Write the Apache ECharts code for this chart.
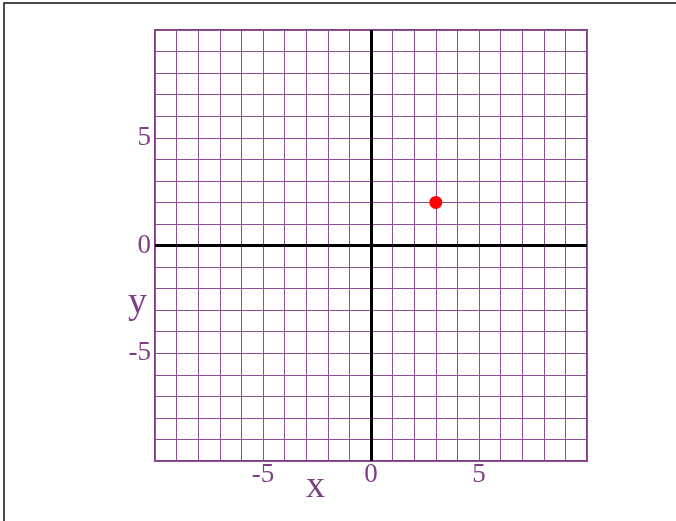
<!DOCTYPE html>
<html>
<head>
<meta charset="utf-8">
<script src="https://cdn.jsdelivr.net/npm/echarts@6/dist/echarts.min.js"></script>
<style>
  html, body { margin: 0; padding: 0; background: #fff; }
  #chart { width: 676px; height: 521px; }
</style>
</head>
<body>
<div id="chart"></div>
<script>
// data
const xRange = [-10, 10];
const yRange = [-10, 10];
const tickLabels = [-5, 0, 5];
const points = [[3, 2]];

const purple = '#7e3f86';
const gridPurple = '#8e4f95';
const serif = 'Liberation Serif';

var dom = document.getElementById('chart');
var myChart = echarts.init(dom, null, { renderer: 'canvas' });

function showTick(v) {
  return tickLabels.indexOf(v) >= 0 ? String(v) : '';
}

var option = {
  animation: false,
  grid: {
    left: 155, top: 30, width: 432, height: 431,
    show: true,
    borderColor: purple,
    borderWidth: 2,
    backgroundColor: 'transparent'
  },
  xAxis: {
    type: 'value',
    min: xRange[0], max: xRange[1], interval: 1,
    axisLine: { show: false },
    axisTick: { show: false },
    splitLine: { lineStyle: { color: gridPurple, width: 1 } },
    axisLabel: {
      formatter: showTick,
      color: purple,
      fontFamily: serif,
      fontSize: 27,
      margin: 0
    }
  },
  yAxis: {
    type: 'value',
    min: yRange[0], max: yRange[1], interval: 1,
    axisLine: { show: false },
    axisTick: { show: false },
    splitLine: { lineStyle: { color: gridPurple, width: 1 } },
    axisLabel: {
      formatter: showTick,
      color: purple,
      fontFamily: serif,
      fontSize: 27,
      margin: 4
    }
  },
  graphic: [
    {
      type: 'rect', silent: true, z: -1,
      shape: { x: 4, y: 3, width: 800, height: 700 },
      style: { fill: 'none', stroke: '#111', lineWidth: 1.5 }
    },
    {
      type: 'text', left: 306, top: 468,
      style: { text: 'x', font: '38px "Liberation Serif"', fill: purple }
    },
    {
      type: 'text', left: 128, top: 284,
      style: { text: 'y', font: '38px "Liberation Serif"', fill: purple }
    }
  ],
  series: [
    {
      type: 'scatter',
      data: points,
      symbolSize: 13,
      itemStyle: { color: '#ff0000', opacity: 1 },
      z: 5,
      markLine: {
        silent: true,
        symbol: 'none',
        label: { show: false },
        lineStyle: { color: '#000', width: 3, type: 'solid' },
        data: [{ xAxis: 0 }, { yAxis: 0 }]
      }
    }
  ]
};

myChart.setOption(option);
window.addEventListener('resize', myChart.resize);
</script>
</body>
</html>
